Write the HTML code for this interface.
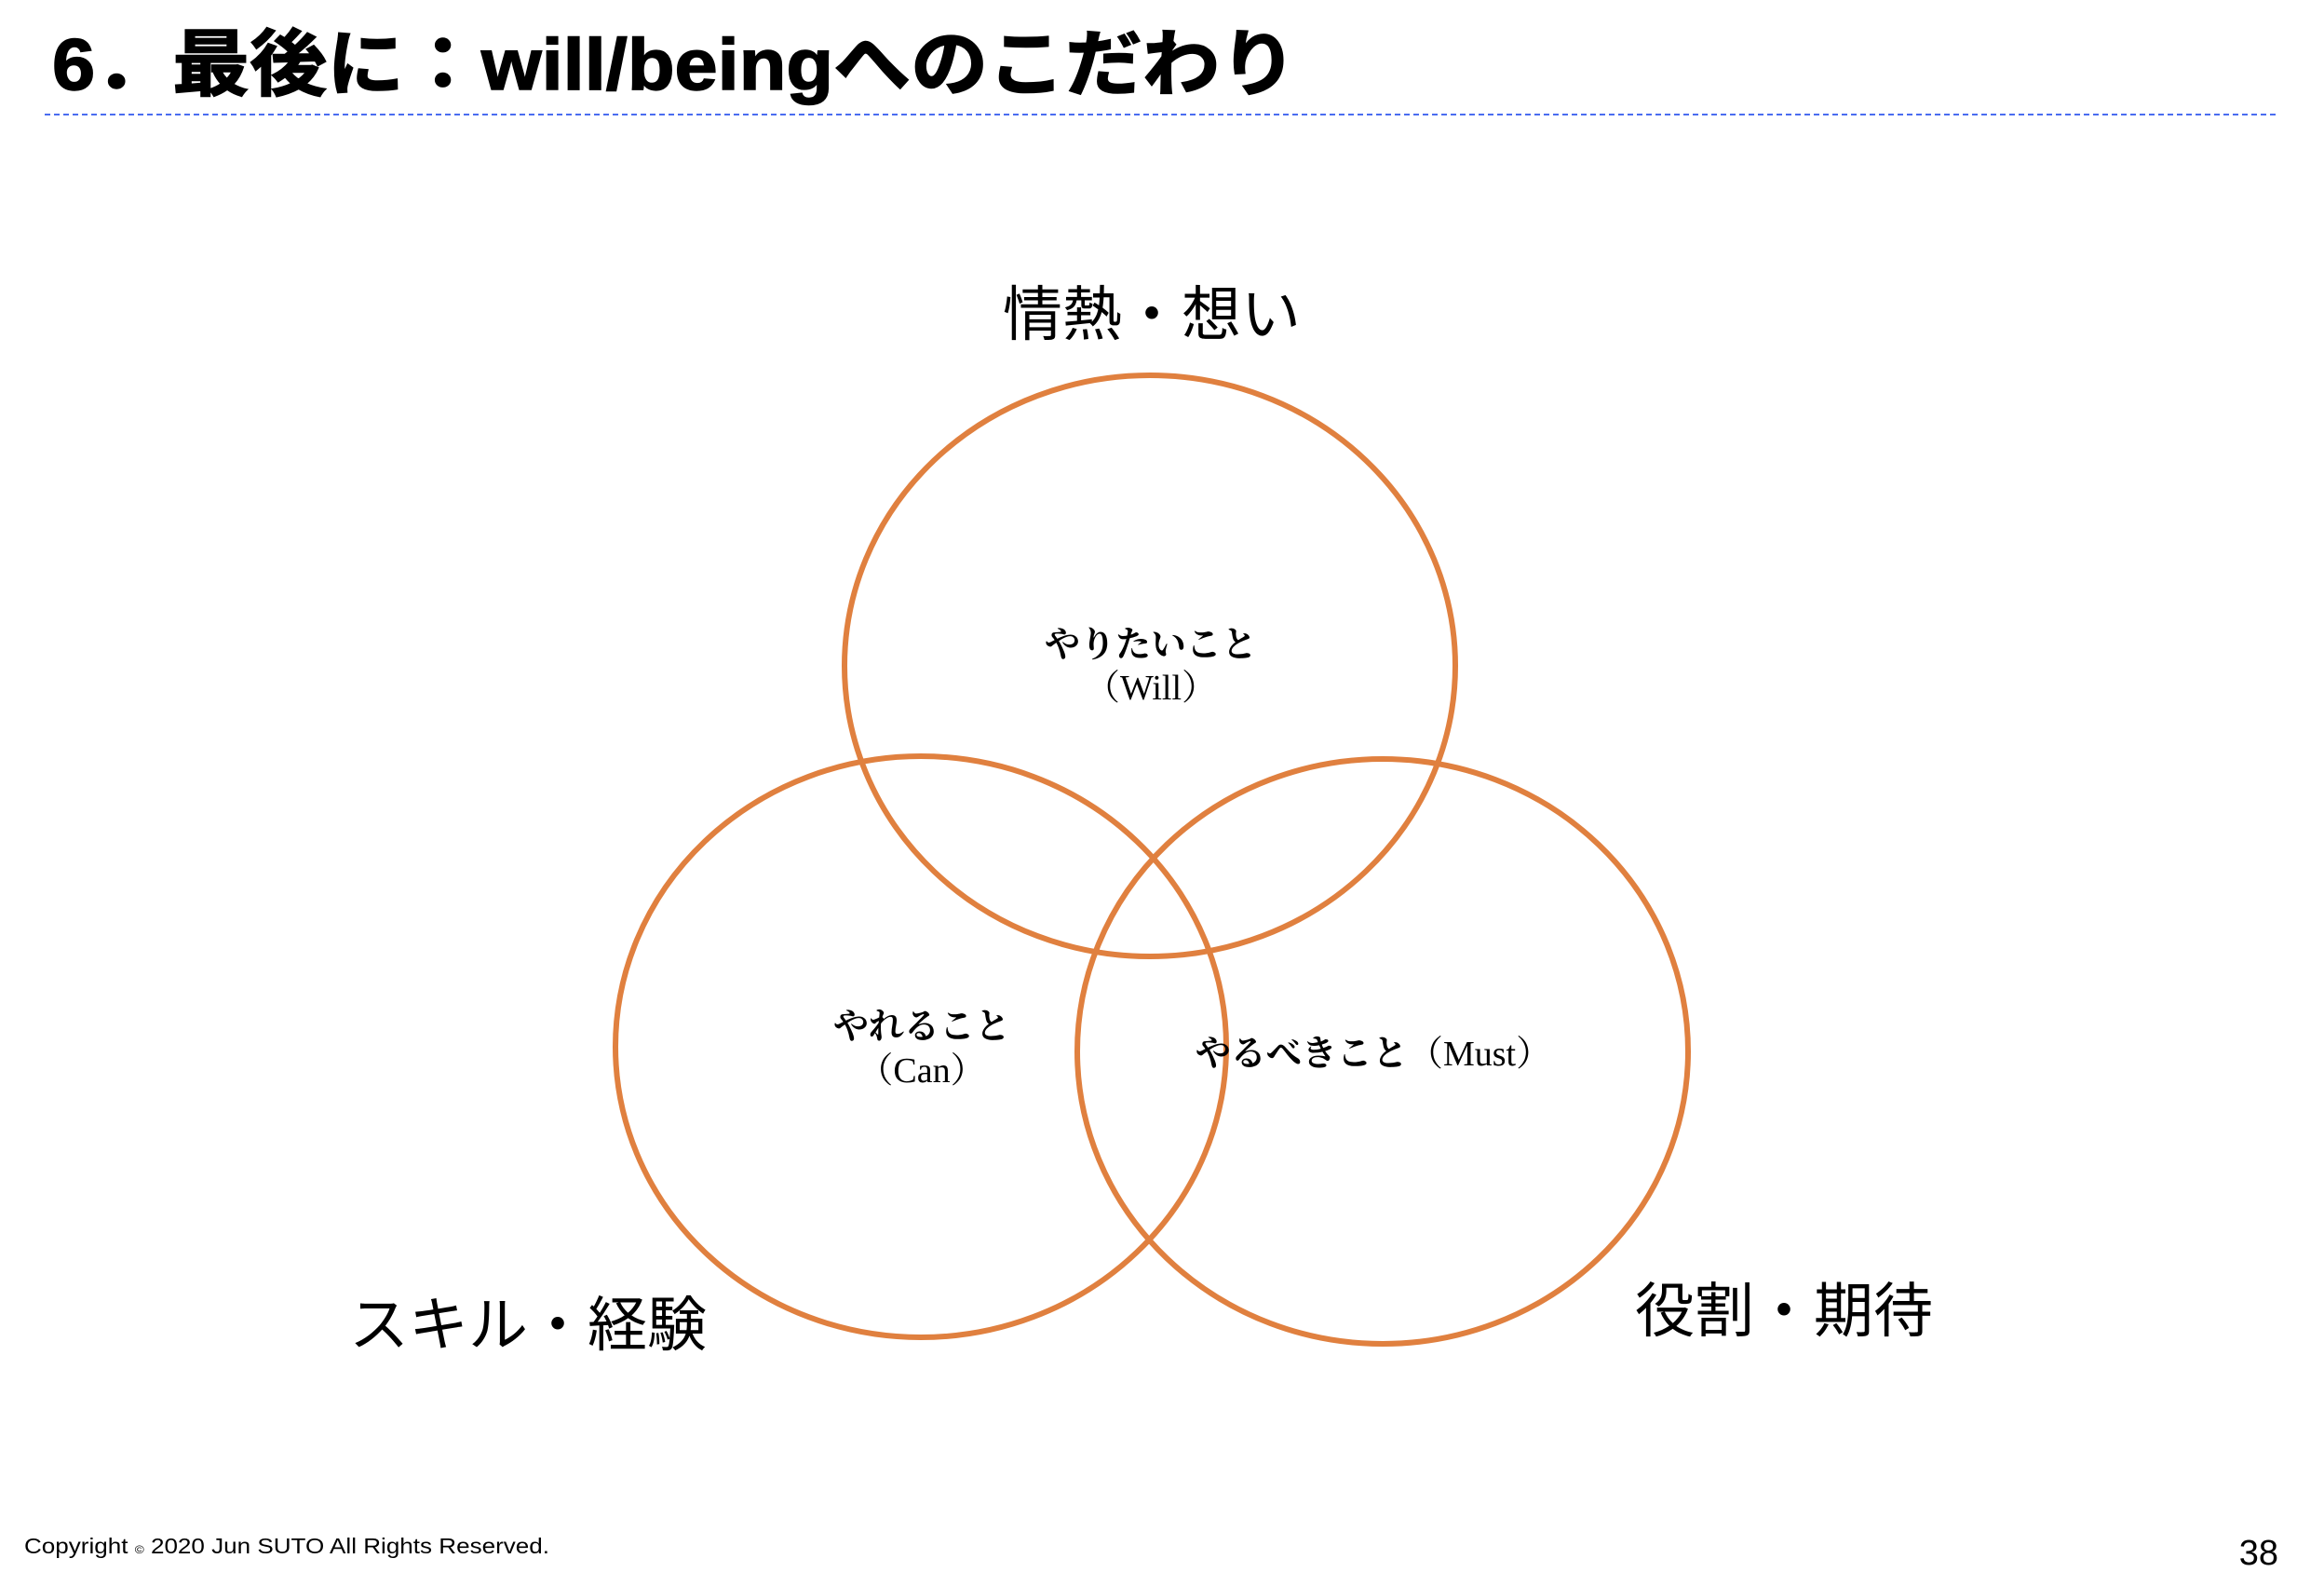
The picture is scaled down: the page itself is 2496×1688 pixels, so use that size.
<!DOCTYPE html>
<html><head><meta charset="utf-8"><style>
html,body{margin:0;padding:0;background:#fff;}
svg{display:block;}
</style></head><body>
<svg width="2496" height="1688" viewBox="0 0 2496 1688" xmlns="http://www.w3.org/2000/svg">
<rect width="2496" height="1688" fill="#fff"/>
<text x="56" y="96" textLength="1337" lengthAdjust="spacingAndGlyphs" font-family="'Liberation Sans','Noto Sans CJK JP',sans-serif" font-weight="bold" font-size="78" fill="#000" stroke="#000" stroke-width="1.5">6．最後に：will/beingへのこだわり</text>
<line x1="48" y1="123" x2="2448" y2="123" stroke="#4a6cf0" stroke-width="2" stroke-dasharray="6,4"/>
<g fill="none" stroke="#E0803F" stroke-width="6">
<ellipse cx="1235" cy="715" rx="328" ry="312"/>
<ellipse cx="989" cy="1124" rx="328" ry="312"/>
<ellipse cx="1485" cy="1129" rx="328" ry="314"/>
</g>
<g font-family="'Liberation Sans','Noto Sans CJK JP',sans-serif" font-size="64" fill="#000" text-anchor="middle">
<text x="1237" y="360">情熱・想い</text>
<text x="567" y="1445">スキル・経験</text>
<text x="1916" y="1430">役割・期待</text>
</g>
<g font-family="'Liberation Serif','Noto Serif CJK SC',serif" font-size="38" fill="#000" text-anchor="middle">
<text x="1236" y="705" font-weight="bold">やりたいこと</text>
<text x="1236" y="751">（Will）</text>
<text x="990" y="1115" font-weight="bold">やれること</text>
<text x="990" y="1162">（Can）</text>
<text x="1475" y="1144"><tspan font-weight="bold">やるべきこと</tspan>（Must）</text>
</g>
<text x="26" y="1668" textLength="564" lengthAdjust="spacingAndGlyphs" font-family="'Liberation Sans',sans-serif" font-size="23" fill="#000">Copyright <tspan font-size="12">©</tspan> 2020 Jun SUTO All Rights Reserved.</text>
<text x="2447" y="1680" text-anchor="end" font-family="'Liberation Sans',sans-serif" font-size="38" fill="#000">38</text>
</svg>
</body></html>
